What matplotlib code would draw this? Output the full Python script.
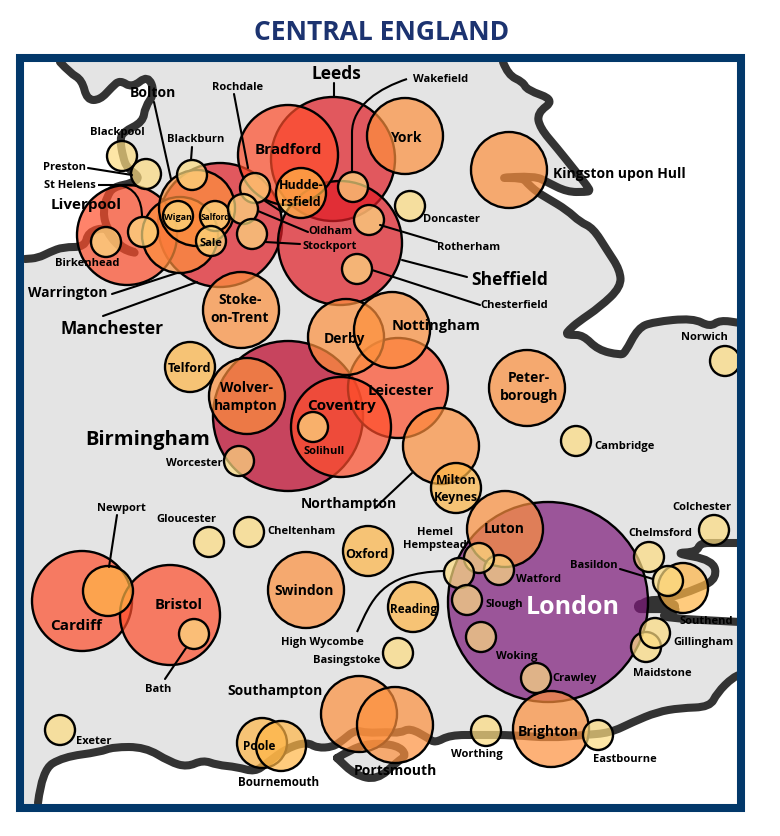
# -*- coding: utf-8 -*-
# bubble map of central England, everything in pixel coordinates of the picture

import matplotlib
matplotlib.use('Agg')
import matplotlib.pyplot as plt
from matplotlib.patches import Circle, Rectangle, PathPatch
from matplotlib.path import Path

plt.rcParams['font.family'] = ['Open Sans', 'DejaVu Sans']

# cities: name, x, y, radius
city = ['London', 'Birmingham', 'Manchester', 'Leeds', 'Sheffield',
        'Liverpool', 'Bradford', 'Cardiff', 'Bristol', 'Leicester', 'Coventry',
        'Warrington', 'Bolton', 'Wolverhampton', 'York', 'Hull', 'Stoke', 'Derby', 'Nottingham',
        'Peterborough', 'Northampton', 'Luton', 'Swindon', 'Southampton', 'Portsmouth', 'Brighton',
        'Huddersfield', 'Telford', 'Milton Keynes', 'Oxford', 'Reading', 'Newport', 'Poole', 'Bournemouth', 'Southend',
        'Birkenhead', 'Blackpool', 'Preston', 'Blackburn', 'St Helens', 'Wigan', 'Salford', 'Sale',
        'Rochdale', 'Oldham', 'Stockport', 'Wakefield', 'Rotherham', 'Chesterfield', 'Doncaster',
        'Solihull', 'Worcester', 'Cambridge', 'Norwich', 'Watford', 'Hemel Hempstead', 'High Wycombe',
        'Slough', 'Woking', 'Crawley', 'Basingstoke', 'Cheltenham', 'Gloucester', 'Bath', 'Exeter',
        'Worthing', 'Eastbourne', 'Chelmsford', 'Colchester', 'Basildon', 'Maidstone', 'Gillingham']
city_x = [548, 288, 220, 333, 340,
          127, 288, 82, 170, 398, 341,
          180, 197, 247, 405, 509, 241, 346, 392,
          527, 441, 505, 306, 359, 395, 551,
          301, 190, 456, 368, 413, 108, 262, 281, 683,
          106, 122, 146, 192, 143, 178, 215, 211,
          255, 243, 252, 353, 369, 357, 410,
          313, 239, 576, 725, 499, 479, 459,
          467, 481, 536, 398, 249, 209, 194, 60,
          486, 598, 649, 714, 668, 646, 655]
city_y = [602, 416, 225, 159, 243,
          235, 155, 601, 615, 388, 427,
          235, 208, 396, 136, 170, 310, 337, 330,
          388, 446, 529, 590, 714, 725, 729,
          193, 367, 488, 551, 607, 591, 743, 746, 588,
          242, 156, 174, 175, 232, 216, 216, 241,
          188, 209, 234, 187, 220, 269, 206,
          427, 461, 441, 361, 570, 558, 573,
          600, 637, 678, 653, 532, 542, 634, 730,
          731, 735, 557, 530, 581, 647, 633]
city_r = [100, 75, 62, 62, 62,
          50, 50, 50, 50, 50, 50,
          38, 38, 38, 38, 38, 38, 38, 38,
          38, 38, 38, 38, 38, 38, 38,
          25, 25, 25, 25, 25, 25, 25, 25, 25,
          15, 15, 15, 15, 15, 15, 15, 15,
          15, 15, 15, 15, 15, 15, 15,
          15, 15, 15, 15, 15, 15, 15,
          15, 15, 15, 15, 15, 15, 15, 15,
          15, 15, 15, 15, 15, 15, 15]

# fill by bubble size
size_color = {100: '#7d1879', 75: '#bc0026', 62: '#e11d26', 50: '#ff4e2b',
              38: '#fd903d', 25: '#ffb546', 15: '#fddc81'}

# labels: text, x, y, font size
label_text = ['London', 'Birmingham', 'Manchester', 'Leeds', 'Sheffield', 'Liverpool', 'Bradford', 'Cardiff', 'Bristol',
              'Leicester', 'Coventry', 'Wolver-\nhampton', 'Hudde-\nrsfield', 'York', 'Kingston upon Hull',
              'Stoke-\non-Trent', 'Derby', 'Nottingham', 'Telford', 'Peter-\nborough', 'Northampton',
              'Milton\nKeynes', 'Luton', 'Oxford', 'Swindon', 'Reading', 'Southampton', 'Portsmouth', 'Brighton',
              'Poole', 'Bournemouth', 'Warrington', 'Bolton',
              'Blackpool', 'Preston', 'St Helens', 'Blackburn', 'Rochdale', 'Wakefield', 'Doncaster', 'Rotherham',
              'Chesterfield', 'Birkenhead', 'Oldham', 'Stockport', 'Wigan', 'Salford', 'Sale', 'Norwich', 'Cambridge',
              'Worcester', 'Solihull', 'Colchester', 'Chelmsford', 'Basildon', 'Southend', 'Gillingham', 'Maidstone',
              'Watford', 'Slough', 'Woking', 'Crawley', 'Hemel\nHempstead', 'High Wycombe', 'Basingstoke',
              'Cheltenham', 'Gloucester', 'Newport', 'Bath', 'Exeter', 'Worthing', 'Eastbourne']
label_x = [573, 148, 112, 336, 510, 86, 288, 76, 179,
           401, 341, 246, 301, 406, 619,
           240, 344, 436, 189, 529, 349,
           456, 504, 367, 304, 414, 275, 395, 548,
           259, 279, 68, 153,
           117, 65, 70, 196, 238, 441, 452, 469,
           514, 87, 330, 330, 178, 215, 211, 704, 625,
           194, 324, 702, 660, 594, 706, 703, 662,
           538, 504, 517, 575, 435, 322, 347,
           301, 186, 121, 158, 94, 477, 625]
label_y = [607, 439, 328, 73, 279, 204, 149, 625, 604,
           390, 405, 396, 193, 137, 173,
           308, 338, 325, 368, 386, 503,
           488, 528, 553, 590, 609, 690, 770, 731,
           746, 781, 292, 92,
           131, 166, 184, 139, 86, 79, 218, 247,
           305, 263, 231, 245, 216, 216, 242, 336, 446,
           463, 450, 506, 533, 565, 621, 642, 672,
           578, 604, 656, 678, 538, 641, 659,
           530, 519, 508, 689, 741, 753, 758]
label_pt = [18, 14.5, 12.5, 12.5, 12.5, 11, 11, 11, 10.5,
            10.5, 11, 10, 9, 10, 10,
            10, 10, 10.5, 9, 10, 10,
            9, 10, 9, 10, 8.5, 10, 10, 10,
            8.5, 8.4, 10, 10,
            8, 8, 8, 8, 8, 8, 8, 8,
            8, 8, 8, 8, 6.5, 6, 8, 8, 8,
            8, 8, 8, 8, 8, 8, 8, 8,
            8, 8, 8, 8, 8, 8, 8,
            8, 8, 8, 8, 8, 8, 8]

coast_nw = [(60, 62), (70, 73), (82, 80), (87, 100), (100, 100), (112, 87), (120, 80), (132, 88), (148, 75),
            (155, 93), (145, 107), (143, 122), (123, 132), (120, 140), (123, 157), (127, 168), (140, 177),
            (133, 183), (113, 187), (107, 197), (103, 210), (106, 227), (120, 247), (140, 254), (123, 250),
            (110, 237), (106, 227), (88, 232), (85, 247), (63, 247), (50, 252), (38, 258), (25, 259)]
coast_east = [(503, 62), (508, 75), (523, 82), (527, 90), (555, 100), (537, 113), (540, 128), (557, 148),
              (577, 173), (588, 187), (590, 191), (586, 192), (567, 192), (547, 182), (535, 176), (495, 178),
              (523, 178), (527, 183), (537, 192), (547, 198), (567, 210), (580, 222), (593, 228), (607, 250),
              (620, 270), (621, 287), (600, 307), (578, 322), (569, 330), (566, 334), (570, 335), (583, 335),
              (598, 350), (620, 355), (625, 353), (638, 328), (653, 322), (693, 318), (710, 327), (720, 320),
              (740, 323)]
coast_thames = [(740, 543), (717, 543), (700, 543), (697, 552), (673, 553), (713, 560), (717, 578), (700, 588),
                (663, 600), (648, 600), (640, 605), (670, 607), (678, 610), (665, 613), (663, 618), (740, 622)]
coast_south = [(38, 803), (42, 770), (63, 757), (100, 752), (113, 747), (145, 747), (170, 762), (187, 767),
               (203, 760), (217, 765), (237, 767), (255, 772), (267, 763), (287, 748), (307, 742), (317, 748),
               (333, 747), (343, 740), (355, 730), (367, 733), (387, 732), (400, 733), (410, 728), (428, 738),
               (435, 743), (450, 735), (480, 735), (513, 735), (550, 738), (583, 735), (610, 733), (633, 722),
               (657, 712), (680, 708), (710, 707), (717, 693), (733, 677), (745, 673)]
coast_island = [(337, 758), (350, 750), (370, 743), (397, 745), (407, 755), (397, 762), (377, 780), (355, 775),
                (337, 758)]

# straight leader lines
leader_lines = [[(334, 83), (334, 97)], [(234, 94), (248, 168)], [(154, 102), (171, 179)], [(192, 147), (191, 160)],
                [(88, 168), (132, 175)], [(258, 211), (308, 232)], [(265, 201), (282, 212)],
                [(265, 242), (300, 244)], [(380, 225), (437, 242)], [(402, 260), (467, 277)],
                [(372, 270), (480, 305)], [(112, 294), (177, 273)], [(103, 316), (197, 282)],
                [(375, 508), (412, 473)], [(117, 515), (109, 567)], [(165, 679), (186, 648)],
                [(620, 569), (653, 579)]]
# curved ones: start, line end, control 1, control 2, end
leader_curves = [[(98, 185), (118, 185), (135, 187), (142, 200), (142, 217)],
                 [(352, 172), (352, 133), (352, 105), (380, 88), (407, 79)],
                 [(357, 632), (357, 632), (372, 600), (380, 573), (444, 571)]]


def coast_path(pts, corners=()):
    # rounded line through the traced points, corners close it into a sea area
    verts = [pts[0]]
    codes = [Path.MOVETO]
    for i in range(1, len(pts) - 1):
        mid = ((pts[i][0] + pts[i + 1][0]) / 2, (pts[i][1] + pts[i + 1][1]) / 2)
        verts += [pts[i], mid]
        codes += [Path.CURVE3, Path.CURVE3]
    verts.append(pts[-1])
    codes.append(Path.LINETO)
    for p in corners:
        verts.append(p)
        codes.append(Path.LINETO)
    if corners:
        verts.append(pts[0])
        codes.append(Path.CLOSEPOLY)
    return Path(verts, codes)


fig = plt.figure(figsize=(7.8, 8.36), dpi=100)
ax = fig.add_axes([0, 0, 1, 1])
ax.set_xlim(0, 780)
ax.set_ylim(836, 0)
ax.axis('off')

# land, then the sea on top of it
map_clip = Rectangle((20, 58), 721, 750, transform=ax.transData)
ax.add_patch(Rectangle((20, 58), 721, 750, fc='#e4e4e4', ec='none', zorder=1))
seas = [(coast_nw, [(20, 259), (20, 58), (60, 58)]),
        (coast_east, [(745, 58), (503, 58)]),
        (coast_thames, [(740, 543)]),
        (coast_south, [(745, 810), (38, 810)])]
for pts, corners in seas:
    ax.add_patch(PathPatch(coast_path(pts, corners), fc='white', ec='none', zorder=2))
ax.add_patch(PathPatch(coast_path(coast_island, [(337, 758)]), fc='#e4e4e4', ec='none', zorder=2.5))
for line in [coast_nw, coast_east, coast_thames, coast_south, coast_island]:
    p = ax.add_patch(PathPatch(coast_path(line), fc='none', ec='#333333', lw=5.8, joinstyle='round',
                               capstyle='round', zorder=3))
    p.set_clip_path(map_clip)
# wide mouth of the Thames
l, = ax.plot([640, 672], [606, 606], color='#333333', lw=9.5, solid_capstyle='round', zorder=3)
l.set_clip_path(map_clip)

# bubbles
for i in range(len(city)):
    fc = matplotlib.colors.to_rgba(size_color[city_r[i]], 0.7)
    ax.add_patch(Circle((city_x[i], city_y[i]), city_r[i], fc=fc, ec='black', lw=1.7, zorder=4 + i * 0.01))

# leaders
for line in leader_lines:
    xs, ys = zip(*line)
    ax.plot(xs, ys, color='black', lw=1.5, solid_capstyle='round', zorder=6)
for c in leader_curves:
    path = Path(c, [Path.MOVETO, Path.LINETO, Path.CURVE4, Path.CURVE4, Path.CURVE4])
    ax.add_patch(PathPatch(path, fc='none', ec='black', lw=1.5, zorder=6))

# labels
for t, x, y, s in zip(label_text, label_x, label_y, label_pt):
    color = 'white' if t == 'London' else 'black'
    ax.text(x, y + 1, t, fontsize=s, fontweight='bold', color=color, ha='center', va='center',
            linespacing=1.35, zorder=7)

# frame and title
ax.add_patch(Rectangle((20, 58), 721, 750, fc='none', ec='#02386a', lw=5.8, joinstyle='miter', zorder=8))
ax.text(382, 33, 'CENTRAL ENGLAND', fontsize=19, fontweight='bold', color='#1c3370', ha='center', va='center')

fig.savefig('out.png', dpi=100, facecolor='white')
